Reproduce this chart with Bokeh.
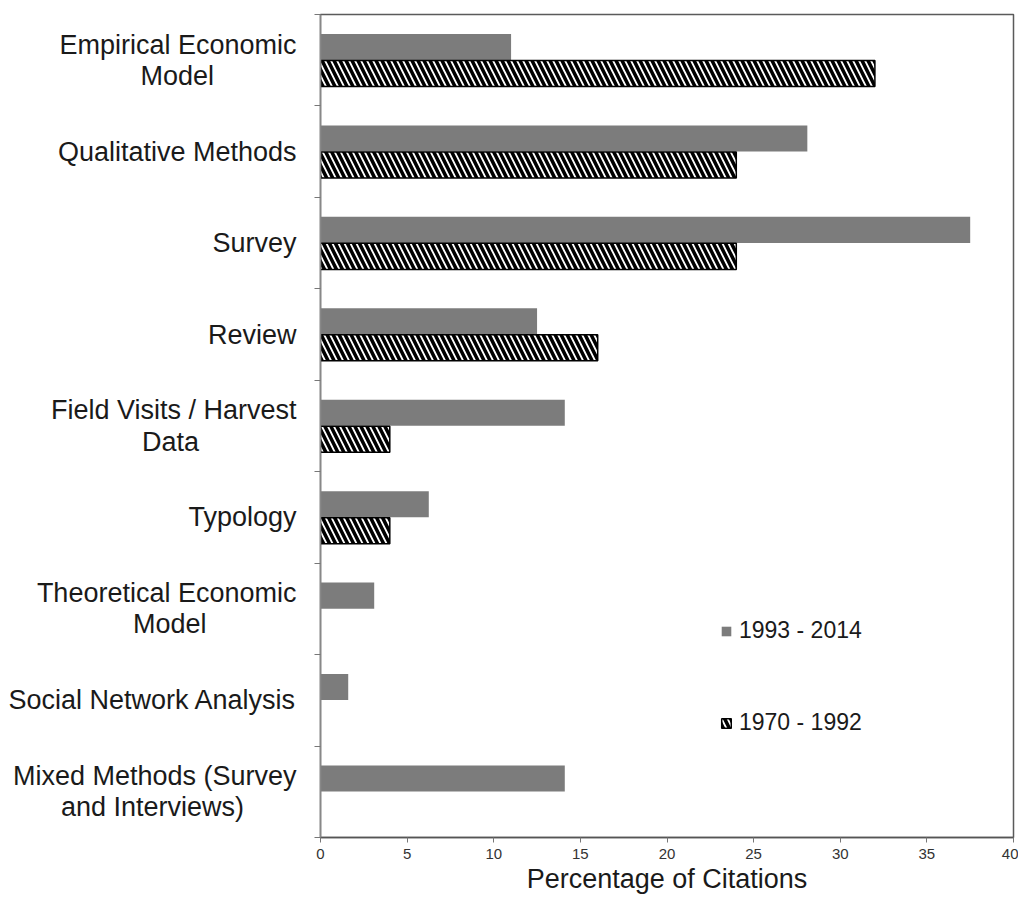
from bokeh.plotting import figure
from bokeh.models import Range1d, FixedTicker, Legend, LegendItem, ColumnDataSource
from bokeh.embed import file_html
from bokeh.resources import INLINE

# ---- data ----
categories = [
    "Empirical Economic\nModel",
    "Qualitative Methods",
    "Survey",
    "Review",
    "Field Visits / Harvest\nData",
    "Typology",
    "Theoretical Economic\nModel",
    "Social Network Analysis",
    "Mixed Methods (Survey\nand Interviews)",
]
recent_pct = [11.0, 28.1, 37.5, 12.5, 14.1, 6.25, 3.1, 1.6, 14.1]   # 1993 - 2014
early_pct = [32.0, 24.0, 24.0, 16.0, 4.0, 4.0, 0.0, 0.0, 0.0]        # 1970 - 1992
series_labels = ["1993 - 2014", "1970 - 1992"]
x_ticks = [0, 5, 10, 15, 20, 25, 30, 35, 40]
x_title = "Percentage of Citations"

FONT = "Liberation Sans"
n = len(categories)
centers = list(range(1, n + 1))
bounds = [c - 0.5 for c in centers] + [n + 0.5]
BAR_H = 0.285
OFF = 0.145

# Arial / Liberation Sans advance widths (per 1000 em): used only to centre the
# shorter line of a wrapped label under the longer one (right-aligned block).
ADV = {" ": 278, "/": 278, "(": 333, ")": 333,
       "A": 667, "C": 722, "D": 722, "E": 667, "F": 611, "H": 722, "I": 278, "M": 833,
       "N": 722, "Q": 778, "R": 722, "S": 667, "T": 611, "V": 667, "P": 667,
       "a": 556, "b": 556, "c": 500, "d": 556, "e": 556, "f": 278, "g": 556, "h": 556,
       "i": 222, "j": 222, "k": 500, "l": 222, "m": 833, "n": 556, "o": 556, "p": 556,
       "q": 556, "r": 333, "s": 500, "t": 278, "u": 556, "v": 500, "w": 722, "x": 500,
       "y": 500, "z": 500}
NBSP = "\u00a0"


def centred_block(label):
    lines = label.split("\n")
    widths = [sum(ADV.get(ch, 556) for ch in s) for s in lines]
    wmax = max(widths)
    out = []
    for s, w in zip(lines, widths):
        pad = int(round((wmax - w) / 2.0 / ADV[" "]))
        out.append(s + NBSP * pad)
    return "\n".join(out)


src_recent = ColumnDataSource(dict(y=[c - OFF for c in centers], right=recent_pct))
early_idx = [i for i, v in enumerate(early_pct) if v > 0]
src_early = ColumnDataSource(dict(y=[centers[i] + OFF for i in early_idx],
                                  right=[early_pct[i] for i in early_idx]))

p = figure(width=1018, height=896, output_backend="svg", toolbar_location=None,
           x_range=Range1d(0, 40), y_range=Range1d(n + 0.5, 0.5),
           min_border_left=320, min_border_right=5, min_border_top=14, min_border_bottom=40)
p.background_fill_color = "white"
p.border_fill_color = "white"
p.outline_line_color = "#5a5a5a"
p.outline_line_width = 1.5
p.xgrid.visible = False
p.ygrid.visible = False

r1 = p.hbar(y="y", left=0, right="right", height=BAR_H, source=src_recent,
            fill_color="#7c7c7c", line_color=None)
r2 = p.hbar(y="y", left=0, right="right", height=BAR_H, source=src_early,
            fill_color="white", line_color="black", line_width=1.5,
            hatch_pattern="\\", hatch_color="black", hatch_scale=12, hatch_weight=3.5)

# x axis
xa = p.xaxis[0]
xa.ticker = FixedTicker(ticks=x_ticks)
xa.axis_label = x_title
xa.axis_label_text_font = FONT
xa.axis_label_text_font_size = "27px"
xa.axis_label_text_font_style = "normal"
xa.axis_label_text_color = "#1a1a1a"
xa.axis_label_standoff = 2
xa.major_label_text_font = FONT
xa.major_label_text_font_size = "15px"
xa.major_label_text_color = "#333333"
xa.major_label_standoff = 6
xa.major_tick_in = 0
xa.major_tick_out = 5
xa.minor_tick_out = 0
xa.minor_tick_in = 0
xa.axis_line_color = "#555555"
xa.axis_line_width = 1.5
xa.major_tick_line_color = "#777777"

# y axis: labels at category centres, small ticks at the category boundaries
ya = p.yaxis[0]
ya.ticker = FixedTicker(ticks=centers, minor_ticks=bounds)
ya.major_label_overrides = {c: centred_block(lab) for c, lab in zip(centers, categories)}
ya.major_label_text_font = FONT
ya.major_label_text_font_size = "27px"
ya.major_label_text_line_height = 1.04
ya.major_label_text_color = "#1a1a1a"
ya.major_label_standoff = 18
ya.major_tick_out = 0
ya.major_tick_in = 0
ya.minor_tick_out = 6
ya.minor_tick_in = 0
ya.minor_tick_line_color = "#777777"
ya.axis_line_color = "#888888"
ya.axis_line_width = 1.5

legend = Legend(items=[LegendItem(label=series_labels[0], renderers=[r1]),
                       LegendItem(label=series_labels[1], renderers=[r2])],
                location=(400, 101), orientation="vertical")
legend.label_text_font = FONT
legend.label_text_font_size = "23px"
legend.label_text_color = "#1a1a1a"
legend.glyph_width = 12
legend.glyph_height = 12
legend.label_height = 24
legend.label_standoff = 7
legend.spacing = 65
legend.padding = 0
legend.margin = 0
legend.border_line_color = None
legend.background_fill_alpha = 0
p.add_layout(legend)

open("out.html", "w").write(file_html(p, INLINE))
